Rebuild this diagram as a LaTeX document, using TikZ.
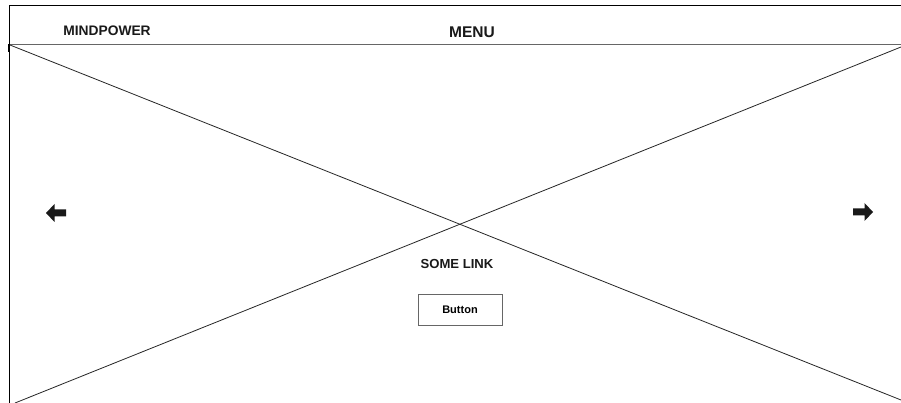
\documentclass[tikz,border=0pt]{standalone}
\usepackage{fontspec}
\setmainfont{Liberation Sans}
\begin{document}
\begin{tikzpicture}[x=1pt,y=-1pt,
  lbl/.style={font=\bfseries, inner sep=0pt, text=black!90},
  frame/.style={draw=black, line width=0.9pt},
  sep/.style={draw=black!60, line width=1pt},
  cross/.style={draw=black!85, line width=0.8pt},
  btn/.style={draw=black!60, line width=1pt, minimum width=84pt, minimum height=31pt, inner sep=0pt, font=\bfseries\fontsize{11}{13}\selectfont},
  arr/.style={fill=black!90, draw=none}]
\useasboundingbox (0,0) rectangle (901,403);
\fill[white] (0,0) rectangle (901,403);
% frame
\coordinate (tl) at (9,5);
\coordinate (tr) at (902,5);
\coordinate (bl) at (9,404);
\coordinate (hl) at (9,44.5);
\coordinate (hr) at (902,44.5);
\draw[frame] (bl) -- (tl) -- (tr);
\draw[sep] (hl) -- (hr);
\draw[line width=2pt] (9,44) -- (9,52);
% cross
\coordinate (c1) at (10,45);
\coordinate (c2) at (901,400);
\coordinate (c3) at (901,47);
\coordinate (c4) at (15,403);
\draw[cross] (c1) -- (c2);
\draw[cross] (c3) -- (c4);
% header texts
\node[lbl, font=\bfseries\fontsize{13.8}{16}\selectfont] (brand) at (107,31) {MINDPOWER};
\node[lbl, font=\bfseries\fontsize{15.5}{18}\selectfont] (menu) at (472,32) {MENU};
% arrows
\fill[arr] (46,213) -- (54.5,204) -- (54.5,209.5) -- (66,209.5) -- (66,216.5) -- (54.5,216.5) -- (54.5,222) -- cycle;
\fill[arr] (873,212) -- (864.5,203) -- (864.5,208.5) -- (853,208.5) -- (853,215.5) -- (864.5,215.5) -- (864.5,221) -- cycle;
% link and button
\node[lbl, font=\bfseries\fontsize{13.1}{15}\selectfont] (link) at (457,264) {SOME LINK};
\node[btn] (button) at (460,309.5) {Button};
\end{tikzpicture}
\end{document}
